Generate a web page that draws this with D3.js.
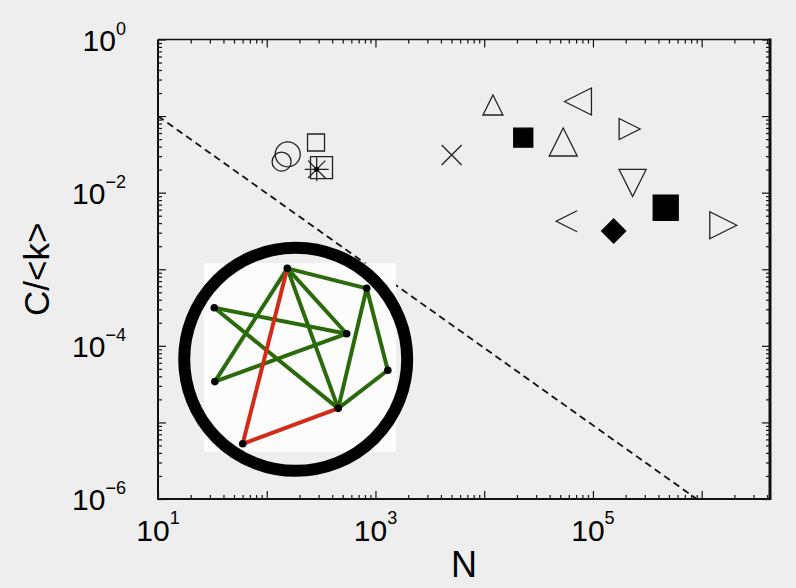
<!DOCTYPE html>
<html>
<head>
<meta charset="utf-8">
<script src="https://cdn.jsdelivr.net/npm/d3@7"></script>
<style>
  body { margin: 0; background: #eeeeee; }
  svg { display: block; font-family: "Liberation Sans", Arial, sans-serif; }
</style>
</head>
<body>
<div id="chart"></div>
<script>
// scatter points: system size N vs C/<k>
var N_vals  = [156, 137, 284, 319, 288, 5020, 12030, 22860, 53300, 72800, 217500, 231700, 467000, 57300, 155000, 1580000];
var ck_vals = [0.0317, 0.0254, 0.0452, 0.0212, 0.0202, 0.0311, 0.1396, 0.0522, 0.0459, 0.155, 0.0679, 0.0134, 0.00635, 0.00423, 0.00316, 0.00375];
var shapes  = ["circle", "circle", "square", "square", "asterisk", "cross", "triUp", "squareFilled", "triUp", "triLeft",
               "triRight", "triDown", "squareFilled", "chevronLeft", "diamondFilled", "triRight"];
var sizes   = [25, 19, 17, 22, 24, 20, 20, 19, 28, 27, 21, 27, 25, 21, 24, 27];

// dashed reference line (random graph ~ 1/N)
var line_N  = [10, 9.0e5];
var line_ck = [0.1, 1e-6];

// tick labels
var xLabelExp = [1, 3, 5];
var yLabelExp = [0, -2, -4, -6];

// inset network (coords inside the inset box, 0..1)
var nodeX = [0.434, 0.847, 0.054, 0.743, 0.957, 0.057, 0.699, 0.202];
var nodeY = [0.027, 0.133, 0.236, 0.374, 0.568, 0.628, 0.770, 0.958];
var greenEdges = [[0,1],[0,5],[0,3],[0,6],[2,3],[2,6],[5,3],[1,6],[1,4],[4,6]];
var redEdges   = [[0,7],[7,6]];

var W = 796, H = 588;
var pL = 158, pR = 770, pT = 39.5, pB = 499;

var svg = d3.select("#chart").append("svg")
  .attr("width", W).attr("height", H);

svg.append("rect").attr("width", W).attr("height", H).attr("fill", "#eeeeee");

var x = d3.scaleLog().domain([10, 4.25e6]).range([pL, pR]);
var y = d3.scaleLog().domain([1e-6, 1]).range([pB, pT]);

svg.append("clipPath").attr("id", "clip")
  .append("rect").attr("x", pL).attr("y", pT)
  .attr("width", pR - pL).attr("height", pB - pT);

// dashed line
var pts = line_N.map((n, i) => [n, line_ck[i]]);
svg.append("path")
  .datum(pts)
  .attr("clip-path", "url(#clip)")
  .attr("fill", "none")
  .attr("stroke", "#111")
  .attr("stroke-width", 1.8)
  .attr("stroke-dasharray", "7,4.5")
  .attr("d", d3.line().x(d => x(d[0])).y(d => y(d[1])));

// ticks on all four sides, inward
var xMajor = [], xMinor = [];
for (var e = 1; e <= 6; e++) {
  xMajor.push(Math.pow(10, e));
  for (var m = 2; m <= 9; m++) {
    var v = m * Math.pow(10, e);
    if (v <= 4.25e6) xMinor.push(v);
  }
}
var yMajor = [], yMinor = [];
for (var e = -6; e <= 0; e++) {
  yMajor.push(Math.pow(10, e));
  if (e < 0) for (var m = 2; m <= 9; m++) yMinor.push(m * Math.pow(10, e));
}

function tickAxis(axis, tr) {
  var g = svg.append("g").attr("transform", tr).call(axis);
  g.select(".domain").remove();
  g.selectAll("line").attr("stroke", "#111").attr("stroke-width", 1.2);
  g.selectAll("text").remove();
}
tickAxis(d3.axisBottom(x).tickValues(xMajor).tickSize(-8), `translate(0,${pB})`);
tickAxis(d3.axisBottom(x).tickValues(xMinor).tickSize(-4), `translate(0,${pB})`);
tickAxis(d3.axisTop(x).tickValues(xMajor).tickSize(-8), `translate(0,${pT})`);
tickAxis(d3.axisTop(x).tickValues(xMinor).tickSize(-4), `translate(0,${pT})`);
tickAxis(d3.axisLeft(y).tickValues(yMajor).tickSize(-8), `translate(${pL},0)`);
tickAxis(d3.axisLeft(y).tickValues(yMinor).tickSize(-4), `translate(${pL},0)`);
tickAxis(d3.axisRight(y).tickValues(yMajor).tickSize(-8), `translate(${pR},0)`);
tickAxis(d3.axisRight(y).tickValues(yMinor).tickSize(-4), `translate(${pR},0)`);

// frame
svg.append("path")
  .attr("d", `M${pL},${pT}H${pR}`)
  .attr("stroke", "#111").attr("stroke-width", 1.5);
svg.append("path")
  .attr("d", `M${pL},${pT}V${pB}H${pR}`)
  .attr("fill", "none").attr("stroke", "#111").attr("stroke-width", 2);
svg.append("path")
  .attr("d", `M${pR},${pT - 1}V${pB + 1}`)
  .attr("stroke", "#111").attr("stroke-width", 3);

// inset
var insetX = pL + 0.075 * (pR - pL), insetW = 0.314 * (pR - pL);
var insetY = pT + 0.487 * (pB - pT), insetH = 0.41 * (pB - pT);
var inset = svg.append("g");
inset.append("rect")
  .attr("x", insetX).attr("y", insetY)
  .attr("width", insetW).attr("height", insetH)
  .attr("fill", "#fcfcfc");
inset.append("circle")
  .attr("cx", pL + 0.225 * (pR - pL))
  .attr("cy", pT + 0.696 * (pB - pT))
  .attr("r", 111.5)
  .attr("fill", "none")
  .attr("stroke", "#000")
  .attr("stroke-width", 12);

var nx = d3.scaleLinear().domain([0, 1]).range([insetX, insetX + insetW]);
var ny = d3.scaleLinear().domain([0, 1]).range([insetY, insetY + insetH]);

inset.selectAll(".g-edge").data(greenEdges).enter().append("line")
  .attr("x1", d => nx(nodeX[d[0]])).attr("y1", d => ny(nodeY[d[0]]))
  .attr("x2", d => nx(nodeX[d[1]])).attr("y2", d => ny(nodeY[d[1]]))
  .attr("stroke", "#2a6a0a").attr("stroke-width", 4);
inset.selectAll(".r-edge").data(redEdges).enter().append("line")
  .attr("x1", d => nx(nodeX[d[0]])).attr("y1", d => ny(nodeY[d[0]]))
  .attr("x2", d => nx(nodeX[d[1]])).attr("y2", d => ny(nodeY[d[1]]))
  .attr("stroke", "#d42a18").attr("stroke-width", 4);
inset.selectAll(".node").data(nodeX).enter().append("circle")
  .attr("cx", d => nx(d)).attr("cy", (d, i) => ny(nodeY[i]))
  .attr("r", 3.8).attr("fill", "#000");

// marker shapes
function shapePath(s, w) {
  var h = w / 2;
  switch (s) {
    case "triUp": return `M0,${-h}L${h},${h}L${-h},${h}Z`;
    case "triDown": return `M0,${h}L${h},${-h}L${-h},${-h}Z`;
    case "triLeft": return `M${-h},0L${h},${-h}L${h},${h}Z`;
    case "triRight": return `M${h},0L${-h},${-h}L${-h},${h}Z`;
    case "chevronLeft": return `M${h},${-h}L${-h},0L${h},${h}`;
    case "cross": return `M${-h},${-h}L${h},${h}M${h},${-h}L${-h},${h}`;
    case "asterisk":
      var d = h * 0.72;
      return `M${-h},0H${h}M0,${-h}V${h}M${-d},${-d}L${d},${d}M${d},${-d}L${-d},${d}`;
    case "square":
    case "squareFilled": return `M${-h},${-h}H${h}V${h}H${-h}Z`;
    case "diamondFilled": return `M0,${-h}L${h},0L0,${h}L${-h},0Z`;
  }
  return "";
}

var pg = svg.append("g");
N_vals.forEach((n, i) => {
  var s = shapes[i], cx = x(n), cy = y(ck_vals[i]);
  if (s === "circle") {
    pg.append("circle").attr("cx", cx).attr("cy", cy).attr("r", sizes[i] / 2)
      .attr("fill", "none").attr("stroke", "#222").attr("stroke-width", 1.3);
    return;
  }
  var filled = s === "squareFilled" || s === "diamondFilled";
  pg.append("path")
    .attr("transform", `translate(${cx},${cy})`)
    .attr("d", shapePath(s, sizes[i]))
    .attr("fill", filled ? "#000" : "none")
    .attr("stroke", filled ? "#000" : "#222")
    .attr("stroke-width", 1.3);
  if (s === "asterisk") {
    pg.append("circle").attr("cx", cx).attr("cy", cy).attr("r", 2.5).attr("fill", "#000");
  }
});

// tick labels
xLabelExp.forEach(ex => {
  var t = svg.append("text")
    .attr("x", x(Math.pow(10, ex))).attr("y", 541)
    .attr("text-anchor", "middle")
    .attr("fill", "#000");
  t.append("tspan").attr("font-size", 30).text("10");
  t.append("tspan").attr("font-size", 18).attr("dy", -17).text(ex);
});
yLabelExp.forEach(ex => {
  var t = svg.append("text")
    .attr("x", 126).attr("y", y(Math.pow(10, ex)) + 11)
    .attr("text-anchor", "end")
    .attr("fill", "#000");
  t.append("tspan").attr("font-size", 30).text("10");
  t.append("tspan").attr("font-size", 18).attr("dy", -16)
    .text(ex < 0 ? "\u2212" + (-ex) : ex);
});

// axis titles
svg.append("text")
  .attr("x", (pL + pR) / 2).attr("y", 577)
  .attr("text-anchor", "middle")
  .attr("font-size", 36)
  .text("N");
svg.append("text")
  .attr("transform", `translate(49,${(pT + pB) / 2}) rotate(-90)`)
  .attr("text-anchor", "middle")
  .attr("font-size", 35)
  .text("C/<k>");
</script>
</body>
</html>
